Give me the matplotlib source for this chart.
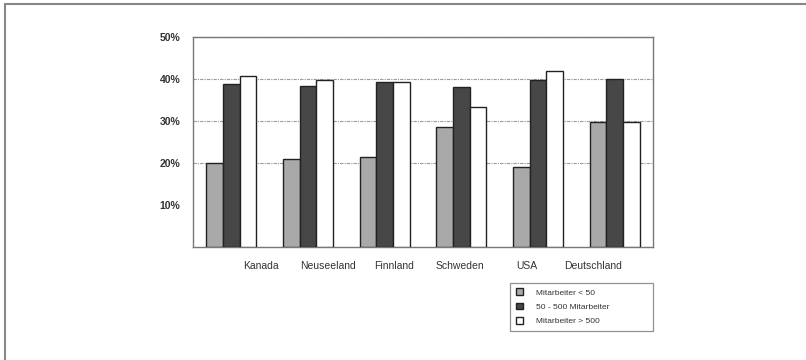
import matplotlib
matplotlib.use("Agg")
import matplotlib.pyplot as plt
import numpy as np
from matplotlib.patches import Rectangle

plt.rcParams['font.family'] = ['Liberation Sans', 'DejaVu Sans']

countries = ["Kanada", "Neuseeland", "Finnland", "Schweden", "USA", "Deutschland"]
series_names = ["Mitarbeiter < 50", "50 - 500 Mitarbeiter", "Mitarbeiter > 500"]
small = [20.0, 21.0, 21.5, 28.5, 19.1, 29.7]
medium = [38.7, 38.4, 39.2, 38.0, 39.8, 40.0]
large = [40.8, 39.8, 39.2, 33.3, 41.9, 29.8]
yticks = [10, 20, 30, 40, 50]
ytick_labels = ["10%", "20%", "30%", "40%", "50%"]

colors = ["#a9a9a9", "#474747", "#ffffff"]

fig = plt.figure(figsize=(8.06, 3.6), dpi=100)
ax = fig.add_axes([193/806, 113/360, 460/806, 210/360])

x = np.arange(len(countries))
w = 0.217
for k, vals in enumerate([small, medium, large]):
    ax.bar(x + (k - 1) * w, vals, width=w, color=colors[k], edgecolor="#222222",
           linewidth=1.0, label=series_names[k], zorder=3)

ax.set_xlim(-0.5, len(countries) - 0.5)
ax.set_ylim(0, 50)
ax.set_yticks(yticks)
ax.set_yticklabels(ytick_labels, fontsize=7.5, color="#333333", fontweight="bold")
ax.yaxis.grid(True, color="#9a9a9a", linestyle=(0, (3, 1, 1, 1)), linewidth=0.8, zorder=0)
ax.get_ygridlines()[0].set_visible(False)
ax.tick_params(axis="y", length=0, pad=9)

# category labels (scanned layout places them slightly compressed)
label_pos = 0.39 + 0.865 * x
ax.set_xticks(label_pos)
ax.set_xticklabels(countries, fontsize=7.5, color="#333333")
ax.tick_params(axis="x", length=0, pad=10)

for s in ax.spines.values():
    s.set_color("#777777")
    s.set_linewidth(1.0)

leg = fig.legend(loc="upper left", bbox_to_anchor=(510/806, 1 - 283/360, 143/806, 0.001),
                 mode="expand", fontsize=6, frameon=True, fancybox=False,
                 handlelength=0.8, handleheight=0.8, handletextpad=1.6,
                 borderpad=0.7, labelspacing=0.75, borderaxespad=0)
leg.get_frame().set_edgecolor("#777777")
leg.get_frame().set_linewidth(0.9)
for t in leg.get_texts():
    t.set_color("#333333")

# outer frame of the scanned page
fig.patches.append(Rectangle((4.5/806, -0.1), 1.2, 1 - 4.5/360 + 0.1,
                             transform=fig.transFigure, fill=False,
                             edgecolor="#888888", linewidth=1.5))

fig.savefig("out.png", dpi=100)
